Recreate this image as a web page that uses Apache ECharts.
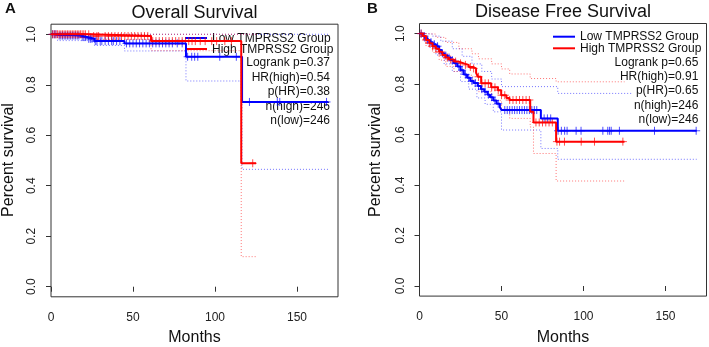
<!DOCTYPE html>
<html>
<head>
<meta charset="utf-8">
<script src="https://cdn.jsdelivr.net/npm/echarts@6/dist/echarts.min.js"></script>
<style>
html, body { margin: 0; padding: 0; background: #fff; }
#main { width: 709px; height: 347px; }
</style>
</head>
<body>
<div id="main"></div>
<script>
// A - overall survival (months, survival after each drop; last point = end of follow-up)
var osLowTime = [0, 4, 18, 22, 26.5, 44.8, 82.3, 116.5, 169];
var osLowSurv = [1, 0.995, 0.989, 0.982, 0.973, 0.964, 0.911, 0.732, 0.732];
var osHighTime = [0, 24.4, 61, 116, 125];
var osHighSurv = [1, 0.993, 0.973, 0.489, 0.489];

var osLowUpTime = [0, 169];
var osLowUpSurv = [1, 1];
var osLowLoTime = [0, 4, 26.5, 44.8, 82.3, 116.5, 169];
var osLowLoSurv = [1, 0.975, 0.956, 0.934, 0.815, 0.465, 0.465];
var osHighUpTime = [0, 125];
var osHighUpSurv = [1, 1];
var osHighLoTime = [0, 24.4, 61, 116, 125];
var osHighLoSurv = [1, 0.98, 0.935, 0.119, 0.119];

var osLowCens = [1, 2, 3, 5, 6, 7, 8, 9, 10, 11, 12, 13, 14, 15, 16, 17, 19, 20, 21, 23, 24, 25,
  27, 28, 30, 31, 33, 35, 37, 38, 40, 42, 46, 48, 50, 52, 54, 56, 58, 60, 62, 64, 66, 68, 70,
  72, 74, 77, 80, 83.3, 85.8, 87.6, 89.5, 102.9, 113, 121, 138, 139.5, 168];
var osHighCens = [1, 2, 3, 4, 5, 6, 7, 8, 9, 10, 11, 12, 13, 14, 15, 16, 17, 18, 19, 20, 21, 23,
  26, 28, 29, 33, 35, 37, 39, 41, 43, 45, 47, 49, 51, 53, 55, 57, 59, 62, 64, 66, 68, 70, 72,
  74, 76, 78, 80, 82, 84, 86, 88, 91, 94, 98, 101, 106, 110, 123];

// B - disease free survival
var dfsLowTime = [0, 2, 3.5, 5, 6.5, 8, 10, 12, 13.5, 15, 17, 19, 21, 23, 25, 27, 29, 31, 33,
  35.5, 37.5, 39.5, 41.5, 43, 45, 47, 49, 50, 74, 84.3, 169];
var dfsLowSurv = [1, 0.99, 0.982, 0.974, 0.966, 0.958, 0.95, 0.935, 0.922, 0.913, 0.905, 0.895,
  0.883, 0.87, 0.855, 0.838, 0.825, 0.812, 0.804, 0.792, 0.78, 0.77, 0.758, 0.748, 0.735, 0.722,
  0.708, 0.697, 0.664, 0.615, 0.615];
var dfsHighTime = [0, 2, 4, 6, 8, 10, 12, 14, 16, 18, 21, 24, 27, 30, 32.5, 34.5, 35.6, 37.6,
  43.7, 47.8, 49.8, 53, 54.9, 67.5, 69.5, 83.3, 125];
var dfsHighSurv = [1, 0.99, 0.975, 0.962, 0.95, 0.94, 0.928, 0.915, 0.905, 0.897, 0.889, 0.882,
  0.876, 0.868, 0.862, 0.845, 0.829, 0.803, 0.787, 0.776, 0.756, 0.745, 0.737, 0.69, 0.648,
  0.572, 0.572];

var dfsLowUpTime = [0, 3, 8, 13, 20, 26, 32, 38, 44, 50, 74, 84.3, 130];
var dfsLowUpSurv = [1, 0.998, 0.99, 0.97, 0.94, 0.91, 0.88, 0.85, 0.82, 0.79, 0.79, 0.763, 0.763];
var dfsLowLoTime = [0, 3, 6, 10, 15, 20, 25, 30, 35, 40, 45, 50, 74, 84.3, 169];
var dfsLowLoSurv = [1, 0.97, 0.945, 0.915, 0.88, 0.85, 0.81, 0.78, 0.745, 0.72, 0.69, 0.618,
  0.545, 0.502, 0.502];
var dfsHighUpTime = [0, 4, 10, 16, 24, 32, 36, 44, 50, 55, 67.5, 83.3, 125];
var dfsHighUpSurv = [1, 0.998, 0.985, 0.965, 0.94, 0.92, 0.9, 0.88, 0.86, 0.84, 0.822, 0.809, 0.809];
var dfsHighLoTime = [0, 4, 8, 12, 16, 21, 27, 32.5, 36, 44, 50, 55, 67.5, 69.5, 83.3, 125];
var dfsHighLoSurv = [1, 0.95, 0.925, 0.895, 0.87, 0.85, 0.835, 0.815, 0.77, 0.735, 0.7, 0.664,
  0.63, 0.525, 0.416, 0.416];

var dfsLowCens = [1, 3, 5, 7, 9, 11, 14, 16, 18, 20, 22, 24, 26, 28, 30, 32, 34, 36, 38, 40, 42,
  44, 46, 48, 52, 53.5, 55, 56.5, 58, 59.5, 61, 62.5, 64, 65.5, 67, 68.5, 70, 71.5, 76, 78, 80,
  84.5, 86.5, 88.5, 90, 95.5, 98.5, 111.8, 114.8, 115.9, 116.9, 121.9, 143.3, 168.7];
var dfsHighCens = [1, 2.5, 4, 6, 8, 10, 12, 15, 17, 19, 22, 25, 28, 31, 33, 36, 38, 40, 42, 44,
  46, 48, 50, 52, 55, 57, 59, 61, 63, 65, 67, 71, 73, 75, 77, 79, 81, 83.8, 85.4, 88.4, 98.6,
  106.7, 124];

var xTicks = [0, 50, 100, 150];
var yTicks = [0, 0.2, 0.4, 0.6, 0.8, 1.0];

var BLUE = '#0000ff';
var RED = '#ff0000';
var FONT = '"Liberation Sans", Arial, Helvetica, sans-serif';

function pairs(t, s) {
    var out = [];
    for (var i = 0; i < t.length; i++) out.push([t[i], s[i]]);
    return out;
}

function survAt(t, s, x) {
    var v = s[0];
    for (var i = 0; i < t.length; i++) {
        if (t[i] <= x) v = s[i];
    }
    return v;
}

function curve(t, s, color, g) {
    return {
        type: 'line', xAxisIndex: g, yAxisIndex: g, step: 'end',
        data: pairs(t, s), symbol: 'none', silent: true, z: 4,
        lineStyle: { color: color, width: 2 }
    };
}

function ciLine(t, s, color, g) {
    return {
        type: 'line', xAxisIndex: g, yAxisIndex: g, step: 'end',
        data: pairs(t, s), symbol: 'none', silent: true, z: 2,
        lineStyle: { color: color, width: 1, type: [1, 2], opacity: 0.55 }
    };
}

function censor(cens, t, s, color, g) {
    var d = cens.map(function (c) { return [c, survAt(t, s, c)]; });
    return {
        type: 'scatter', xAxisIndex: g, yAxisIndex: g, data: d, silent: true, z: 3,
        symbol: 'path://M5,0L5,10M0,5L10,5', symbolSize: 8,
        itemStyle: { color: 'none', borderColor: color, borderWidth: 1, opacity: 0.7 }
    };
}

function xAx(g) {
    return {
        type: 'value', gridIndex: g, min: 0, max: 175,
        axisLine: { show: false },
        axisTick: { show: true, length: 5, customValues: xTicks, lineStyle: { color: '#333' } },
        axisLabel: { customValues: xTicks, margin: 15, fontSize: 12, fontFamily: FONT, color: '#222' },
        splitLine: { show: false }
    };
}

function yAx(g) {
    return {
        type: 'value', gridIndex: g, min: -0.04, max: 1.04,
        axisLine: { show: false },
        axisTick: { show: true, length: 5, customValues: yTicks, lineStyle: { color: '#333' } },
        axisLabel: {
            customValues: yTicks, rotate: 90, margin: 13, fontSize: 12, fontFamily: FONT, color: '#222',
            formatter: function (v) { return v.toFixed(1); }
        },
        splitLine: { show: false }
    };
}

function txt(x, y, s, size, align, bold) {
    return {
        type: 'text', x: x, y: y, silent: true,
        style: {
            text: s, fill: '#111', align: align || 'center', verticalAlign: 'middle',
            font: (bold ? 'bold ' : '') + size + 'px ' + FONT
        }
    };
}

function ytxt(x, y, s) {
    var t = txt(x, y, s, 16);
    t.rotation = Math.PI / 2;
    return t;
}

function legLine(x1, x2, y, color) {
    return { type: 'line', silent: true, shape: { x1: x1, y1: y, x2: x2, y2: y }, style: { stroke: color, lineWidth: 2 } };
}

var myChart = echarts.init(document.getElementById('main'));

var option = {
    animation: false,
    backgroundColor: '#fff',
    grid: [
        { left: 51, top: 24.2, width: 287, height: 272.6, show: true, borderColor: '#333', borderWidth: 1 },
        { left: 419.5, top: 23.5, width: 287, height: 272.6, show: true, borderColor: '#333', borderWidth: 1 }
    ],
    xAxis: [xAx(0), xAx(1)],
    yAxis: [yAx(0), yAx(1)],
    series: [
        ciLine(osLowUpTime, osLowUpSurv, BLUE, 0),
        ciLine(osLowLoTime, osLowLoSurv, BLUE, 0),
        ciLine(osHighUpTime, osHighUpSurv, RED, 0),
        ciLine(osHighLoTime, osHighLoSurv, RED, 0),
        curve(osLowTime, osLowSurv, BLUE, 0),
        curve(osHighTime, osHighSurv, RED, 0),
        censor(osLowCens, osLowTime, osLowSurv, BLUE, 0),
        censor(osHighCens, osHighTime, osHighSurv, RED, 0),

        ciLine(dfsLowUpTime, dfsLowUpSurv, BLUE, 1),
        ciLine(dfsLowLoTime, dfsLowLoSurv, BLUE, 1),
        ciLine(dfsHighUpTime, dfsHighUpSurv, RED, 1),
        ciLine(dfsHighLoTime, dfsHighLoSurv, RED, 1),
        curve(dfsLowTime, dfsLowSurv, BLUE, 1),
        curve(dfsHighTime, dfsHighSurv, RED, 1),
        censor(dfsLowCens, dfsLowTime, dfsLowSurv, BLUE, 1),
        censor(dfsHighCens, dfsHighTime, dfsHighSurv, RED, 1)
    ],
    graphic: [
        txt(10.5, 8.5, 'A', 15, 'center', true),
        txt(372.5, 8.5, 'B', 15, 'center', true),
        txt(194.5, 13.5, 'Overall Survival', 18),
        txt(563, 12, 'Disease Free Survival', 18),
        txt(194.5, 338, 'Months', 16),
        txt(563, 338, 'Months', 16),
        ytxt(9, 160, 'Percent survival'),
        ytxt(376, 160, 'Percent survival'),

        legLine(185, 207, 38, BLUE),
        legLine(185, 207, 49, RED),
        txt(212, 38.5, 'Low TMPRSS2 Group', 12, 'left'),
        txt(212, 49.7, 'High TMPRSS2 Group', 12, 'left'),
        txt(330, 63, 'Logrank p=0.37', 12, 'right'),
        txt(330, 77.7, 'HR(high)=0.54', 12, 'right'),
        txt(330, 91.7, 'p(HR)=0.38', 12, 'right'),
        txt(330, 106.5, 'n(high)=246', 12, 'right'),
        txt(330, 120.7, 'n(low)=246', 12, 'right'),

        legLine(553, 575, 36.7, BLUE),
        legLine(553, 575, 48.3, RED),
        txt(580, 37, 'Low TMPRSS2 Group', 12, 'left'),
        txt(580, 48.5, 'High TMPRSS2 Group', 12, 'left'),
        txt(698.3, 62.3, 'Logrank p=0.65', 12, 'right'),
        txt(698.3, 76.7, 'HR(high)=0.91', 12, 'right'),
        txt(698.3, 90.7, 'p(HR)=0.65', 12, 'right'),
        txt(698.3, 106, 'n(high)=246', 12, 'right'),
        txt(698.3, 120, 'n(low)=246', 12, 'right')
    ]
};

myChart.setOption(option);
</script>
</body>
</html>
